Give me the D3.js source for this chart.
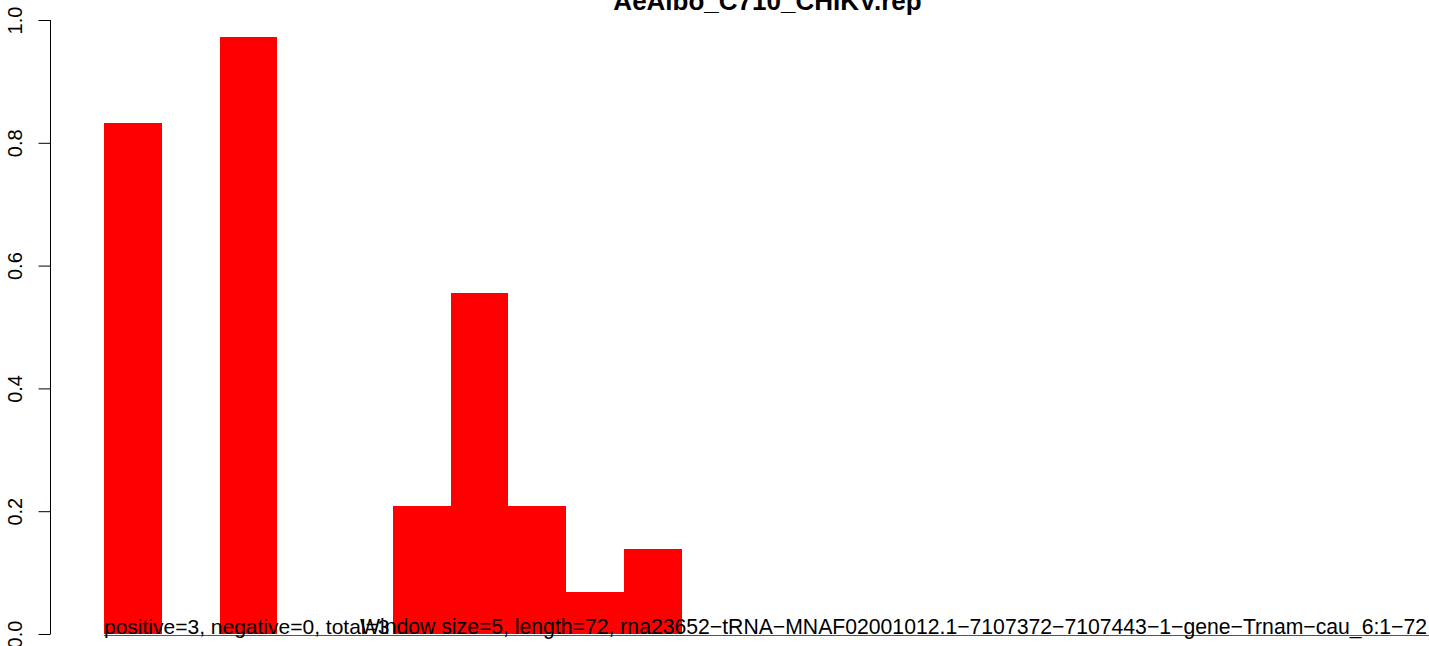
<!DOCTYPE html>
<html>
<head>
<meta charset="utf-8">
<script src="https://cdn.jsdelivr.net/npm/d3@7"></script>
<style>
html,body{margin:0;padding:0;background:#fff;overflow:hidden;}
svg{display:block;font-family:"Liberation Sans",Arial,Helvetica,sans-serif;}
</style>
</head>
<body>
<script>
// Data
const title = "AeAlbo_C710_CHIKV.rep";
const windows = [0,1,2,3,4,5,6,7,8,9];
const values = [0.833, 0, 0.972, 0, 0, 0.208, 0.556, 0.208, 0.069, 0.139];
const yTicks = [0, 0.2, 0.4, 0.6, 0.8, 1.0];
const countText = "positive=3, negative=0, total=3";
const infoText = "Window size=5, length=72, rna23652\u2212tRNA\u2212MNAF02001012.1\u22127107372\u22127107443\u22121\u2212gene\u2212Trnam\u2212cau_6:1\u221272";

const W = 1429, H = 646;
const svg = d3.select("body").append("svg").attr("width", W).attr("height", H);

const x = d3.scaleLinear().domain([0, 10]).range([104, 681.7]);
const y = d3.scaleLinear().domain([0, 1]).range([634, 20]);

// bars
svg.append("g").selectAll("rect").data(windows).join("rect")
  .attr("x", d => x(d))
  .attr("width", d => x(d + 1) - x(d))
  .attr("y", (d, i) => y(values[i]))
  .attr("height", (d, i) => y(0) - y(values[i]))
  .attr("fill", "#ff0000")
  .attr("shape-rendering", "crispEdges");

// y axis
const yAxis = d3.axisLeft(y).tickValues(yTicks).tickFormat(d3.format(".1f")).tickSize(12).tickPadding(0);
const ag = svg.append("g").attr("transform", "translate(50.5,0)").call(yAxis);
ag.select(".domain").attr("d", `M0,${y(1)}V${y(0)}`).attr("stroke", "#000");
ag.selectAll(".tick line").attr("stroke", "#000");
ag.selectAll(".tick text")
  .attr("font-size", 20)
  .attr("fill", "#000")
  .attr("text-anchor", "middle")
  .attr("x", null).attr("dy", null)
  .attr("transform", "translate(-29,0) rotate(-90)");

// baseline
svg.append("line")
  .attr("x1", x(0)).attr("x2", W)
  .attr("y1", y(0) + 1.5).attr("y2", y(0) + 1.5)
  .attr("stroke", "#555").attr("stroke-width", 1);

// title
svg.append("text")
  .attr("x", 767.5).attr("y", 9.5)
  .attr("text-anchor", "middle")
  .attr("font-weight", "bold")
  .attr("font-size", 26)
  .text(title);

// bottom texts
svg.append("text")
  .attr("x", x(0)).attr("y", y(0))
  .attr("font-size", 21)
  .text(countText);
svg.append("text")
  .attr("x", 360).attr("y", y(0))
  .attr("font-size", 21.2)
  .text(infoText);
</script>
</body>
</html>
